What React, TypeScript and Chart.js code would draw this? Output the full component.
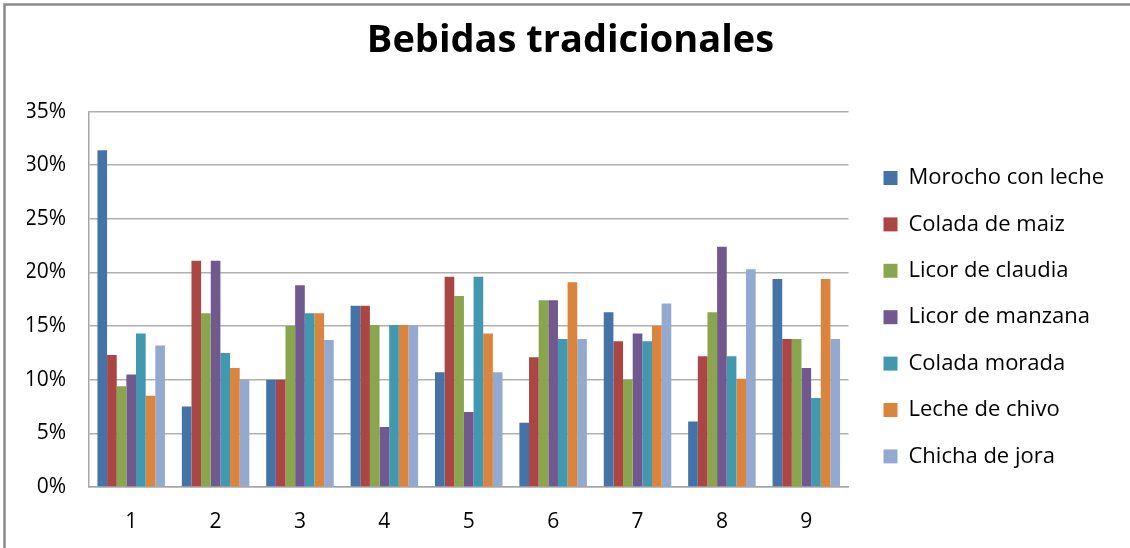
import React, { useEffect, useRef } from "react";
import { Chart, registerables } from "chart.js";

Chart.register(...registerables);

const categories = ["1", "2", "3", "4", "5", "6", "7", "8", "9"];
const seriesNames = [
  "Morocho con leche",
  "Colada de maiz",
  "Licor de claudia",
  "Licor de manzana",
  "Colada morada",
  "Leche de chivo",
  "Chicha de jora",
];
const morocho = [31.4, 7.5, 10.0, 16.9, 10.7, 6.0, 16.3, 6.1, 19.4];
const coladaMaiz = [12.3, 21.1, 10.0, 16.9, 19.6, 12.1, 13.6, 12.2, 13.8];
const licorClaudia = [9.4, 16.2, 15.0, 15.1, 17.8, 17.4, 10.0, 16.3, 13.8];
const licorManzana = [10.5, 21.1, 18.8, 5.6, 7.0, 17.4, 14.3, 22.4, 11.1];
const coladaMorada = [14.3, 12.5, 16.2, 15.1, 19.6, 13.8, 13.6, 12.2, 8.3];
const lecheChivo = [8.5, 11.1, 16.2, 15.1, 14.3, 19.1, 15.0, 10.1, 19.4];
const chichaJora = [13.2, 10.0, 13.7, 15.1, 10.7, 13.8, 17.1, 20.3, 13.8];
const colors = ["#4572A7", "#AA4643", "#89A54E", "#71588F", "#4198AF", "#DB843D", "#93A9CF"];
const yTicks = [0, 5, 10, 15, 20, 25, 30, 35];

const FONT = "'Open Sans', 'Noto Sans', sans-serif";

const frame = {
  id: "frame",
  afterDraw(chart: any) {
    const ctx = chart.ctx;
    ctx.save();
    ctx.strokeStyle = "#8a8a8a";
    ctx.lineWidth = 2.5;
    ctx.beginPath();
    ctx.moveTo(4.5, chart.height);
    ctx.lineTo(4.5, 4.5);
    ctx.lineTo(chart.width, 4.5);
    ctx.stroke();
    ctx.restore();
  },
};

export default function App() {
  const ref = useRef<HTMLCanvasElement>(null);
  useEffect(() => {
    const values = [morocho, coladaMaiz, licorClaudia, licorManzana, coladaMorada, lecheChivo, chichaJora];
    const chart = new Chart(ref.current!, {
      type: "bar",
      data: {
        labels: categories,
        datasets: seriesNames.map((name, i) => ({
          label: name,
          data: values[i],
          backgroundColor: colors[i],
          borderWidth: 0,
          categoryPercentage: 0.8,
          barPercentage: 1.0,
          yAxisID: "y",
        })),
      },
      options: {
        animation: false,
        responsive: true,
        maintainAspectRatio: false,
        layout: { padding: { left: 27, right: 16, top: 4, bottom: 0 } },
        plugins: {
          title: {
            display: true,
            text: "Bebidas tradicionales",
            color: "#000",
            font: { family: FONT, size: 38, weight: "bold" },
            padding: { top: 14, bottom: 48 },
          },
          legend: {
            position: "right",
            align: "start",
            maxWidth: 400,
            title: {
              display: true,
              text: " ",
              font: { family: FONT, size: 10 },
              padding: { top: 126.6, bottom: 0 },
            },
            labels: {
              boxWidth: 14,
              boxHeight: 14,
              padding: 24.4,
              color: "#000",
              font: { family: FONT, size: 22 },
            },
          },
          tooltip: { enabled: false },
        },
        scales: {
          x: {
            grid: { display: false },
            border: { display: true, color: "#a6a6a6", width: 1.5 },
            ticks: { color: "#000", font: { family: FONT, size: 21 }, padding: 14 },
            afterFit: (s: any) => {
              s.height = 61;
            },
          },
          y: {
            min: 0,
            max: 35,
            afterBuildTicks: (s: any) => {
              s.ticks = yTicks.map((v) => ({ value: v }));
            },
            grid: { color: "#b0b0b0", lineWidth: 1.5, drawTicks: false },
            border: { display: true, color: "#a6a6a6", width: 1.5 },
            ticks: {
              color: "#000",
              font: { family: FONT, size: 21 },
              padding: 23,
              callback: (v: any) => `${v}%`,
            },
            afterFit: (s: any) => {
              s.width = 62;
            },
          },
          y2: {
            position: "right",
            display: true,
            grid: { display: false },
            border: { display: false },
            ticks: { display: false },
            afterFit: (s: any) => {
              s.width = 10.6;
            },
          },
        },
      },
      plugins: [frame],
    });
    return () => chart.destroy();
  }, []);
  return (
    <div style={{ position: "fixed", left: 0, top: 0, width: 1130, height: 548, background: "#fff" }}>
      <canvas ref={ref} />
    </div>
  );
}
